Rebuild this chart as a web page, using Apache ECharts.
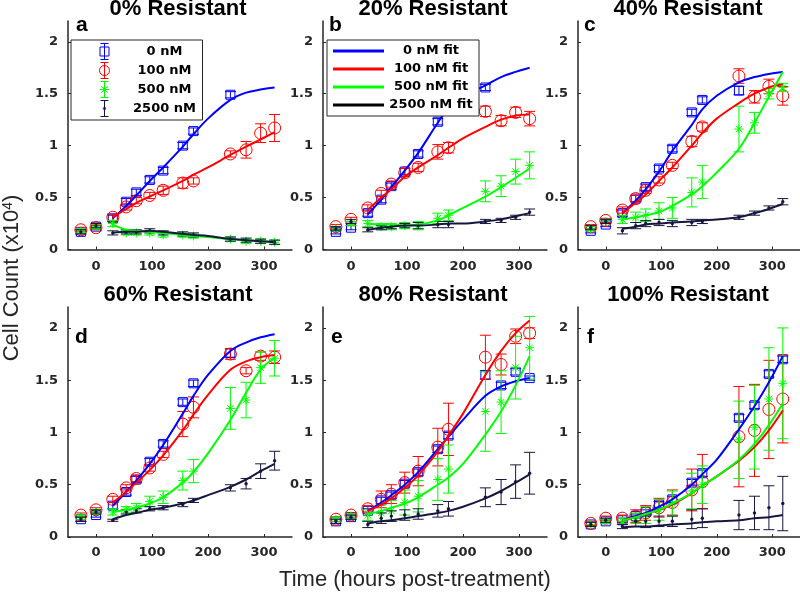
<!DOCTYPE html>
<html><head><meta charset="utf-8">
<script src="https://cdn.jsdelivr.net/npm/echarts@6/dist/echarts.min.js"></script>
<style>html,body{margin:0;padding:0;background:#fff}#c{width:800px;height:594px}</style>
</head><body><div id="c"></div><script>
// ---------- data ----------
const panelTitles = ['0% Resistant', '20% Resistant', '40% Resistant', '60% Resistant', '80% Resistant', '100% Resistant'];
const panelLetters = ['a', 'b', 'c', 'd', 'e', 'f'];
const doseNames = ['0 nM', '100 nM', '500 nM', '2500 nM'];
const fitNames = ['0 nM fit', '100 nM fit', '500 nM fit', '2500 nM fit'];
const xTickValues = [0, 100, 200, 300];
const yTickValues = [0, 0.5, 1, 1.5, 2];
const xLabel = 'Time (hours post-treatment)';
const times = [-27, 0, 30, 54, 72, 96, 120, 155, 174, 240, 268, 294, 319];
const fitTimes = [30, 54, 72, 96, 120, 155, 174, 200, 240, 268, 294, 319];

// order in each list: 0 nM, 100 nM, 500 nM, 2500 nM
const mean_a = [
  [0.17, 0.22, 0.30, 0.46, 0.55, 0.67, 0.76, 1.00, 1.14, 1.49, null, null, null],
  [0.19, 0.21, 0.31, 0.41, 0.47, 0.52, 0.57, 0.64, 0.66, 0.92, 0.96, 1.12, 1.17],
  [0.18, 0.22, 0.25, 0.16, 0.16, 0.16, 0.14, 0.14, 0.13, 0.10, 0.08, 0.08, 0.07],
  [0.17, 0.23, 0.16, 0.17, 0.17, 0.18, 0.16, 0.15, 0.14, 0.10, 0.09, 0.08, 0.07]];
const err_a = [
  [0.02, 0.02, 0.03, 0.03, 0.03, 0.03, 0.03, 0.03, 0.03, 0.03, null, null, null],
  [0.02, 0.02, 0.03, 0.03, 0.03, 0.03, 0.04, 0.05, 0.03, 0.03, 0.08, 0.09, 0.13],
  [0.02, 0.02, 0.03, 0.02, 0.02, 0.02, 0.02, 0.02, 0.02, 0.02, 0.02, 0.02, 0.02],
  [0.02, 0.02, 0.02, 0.02, 0.02, 0.02, 0.02, 0.02, 0.02, 0.02, 0.02, 0.02, 0.02]];
const fit_a = [
  [0.30, 0.42, 0.52, 0.66, 0.79, 0.99, 1.11, 1.26, 1.44, 1.51, 1.54, 1.56],
  [0.31, 0.39, 0.45, 0.51, 0.57, 0.66, 0.72, 0.79, 0.91, 0.99, 1.06, 1.13],
  [0.24, 0.19, 0.18, 0.17, 0.16, 0.14, 0.13, 0.12, 0.10, 0.09, 0.08, 0.07],
  [0.16, 0.17, 0.17, 0.18, 0.17, 0.15, 0.14, 0.13, 0.10, 0.09, 0.08, 0.07]];

const mean_b = [
  [0.17, 0.21, 0.35, 0.48, 0.61, 0.75, 0.92, 1.23, 1.37, 1.56, null, null, null],
  [0.22, 0.29, 0.40, 0.54, 0.63, 0.74, 0.79, 0.94, 0.98, 1.33, 1.24, 1.32, 1.26],
  [0.20, 0.25, 0.25, 0.22, 0.22, 0.23, 0.23, 0.30, 0.33, 0.56, 0.61, 0.75, 0.81],
  [0.20, 0.27, 0.19, 0.21, 0.22, 0.23, 0.23, 0.24, 0.24, 0.27, 0.28, 0.31, 0.36]];
const err_b = [
  [0.02, 0.02, 0.03, 0.03, 0.03, 0.03, 0.03, 0.03, 0.03, 0.03, null, null, null],
  [0.02, 0.02, 0.03, 0.03, 0.03, 0.04, 0.04, 0.07, 0.05, 0.05, 0.05, 0.05, 0.07],
  [0.02, 0.02, 0.03, 0.03, 0.03, 0.03, 0.04, 0.05, 0.05, 0.10, 0.10, 0.12, 0.13],
  [0.02, 0.02, 0.02, 0.02, 0.02, 0.02, 0.03, 0.03, 0.03, 0.02, 0.02, 0.02, 0.03]];
const fit_b = [
  [0.34, 0.48, 0.60, 0.76, 0.93, 1.22, 1.36, 1.47, 1.58, 1.66, 1.71, 1.75],
  [0.38, 0.50, 0.58, 0.70, 0.79, 0.91, 0.98, 1.07, 1.18, 1.25, 1.29, 1.30],
  [0.25, 0.24, 0.24, 0.23, 0.24, 0.28, 0.33, 0.40, 0.51, 0.60, 0.69, 0.78],
  [0.19, 0.21, 0.22, 0.23, 0.23, 0.24, 0.25, 0.25, 0.27, 0.29, 0.32, 0.35]];

const mean_c = [
  [0.18, 0.24, 0.35, 0.49, 0.60, 0.78, 0.97, 1.32, 1.44, 1.53, null, null, null],
  [0.22, 0.28, 0.38, 0.49, 0.57, 0.67, 0.81, 1.04, 1.18, 1.67, 1.47, 1.57, 1.48],
  [0.20, 0.27, 0.29, 0.31, 0.33, 0.37, 0.40, 0.55, 0.65, 1.16, 1.22, 1.50, 1.56],
  [0.21, 0.27, 0.18, 0.23, 0.25, 0.26, 0.25, 0.26, 0.27, 0.31, 0.35, 0.40, 0.46]];
const err_c = [
  [0.02, 0.02, 0.03, 0.03, 0.03, 0.03, 0.03, 0.03, 0.03, 0.04, null, null, null],
  [0.02, 0.02, 0.03, 0.03, 0.03, 0.03, 0.03, 0.05, 0.04, 0.07, 0.06, 0.07, 0.09],
  [0.02, 0.02, 0.04, 0.05, 0.06, 0.08, 0.10, 0.14, 0.16, 0.22, 0.10, 0.05, 0.04],
  [0.02, 0.02, 0.03, 0.03, 0.03, 0.03, 0.03, 0.03, 0.02, 0.02, 0.02, 0.02, 0.03]];
const fit_c = [
  [0.35, 0.47, 0.58, 0.75, 0.95, 1.20, 1.35, 1.48, 1.61, 1.66, 1.69, 1.71],
  [0.35, 0.45, 0.53, 0.66, 0.79, 1.00, 1.12, 1.26, 1.41, 1.50, 1.56, 1.59],
  [0.29, 0.31, 0.33, 0.36, 0.42, 0.53, 0.61, 0.74, 0.97, 1.22, 1.47, 1.71],
  [0.20, 0.22, 0.24, 0.25, 0.26, 0.27, 0.28, 0.29, 0.31, 0.35, 0.39, 0.44]];

const mean_d = [
  [0.17, 0.21, 0.30, 0.43, 0.55, 0.72, 0.89, 1.29, 1.47, 1.76, null, null, null],
  [0.21, 0.26, 0.36, 0.47, 0.56, 0.66, 0.79, 1.08, 1.24, 1.75, 1.59, 1.73, 1.72],
  [0.19, 0.24, 0.24, 0.26, 0.28, 0.34, 0.38, 0.54, 0.63, 1.23, 1.31, 1.62, 1.71],
  [0.17, 0.24, 0.16, 0.24, 0.25, 0.27, 0.28, 0.31, 0.35, 0.47, 0.51, 0.63, 0.73]];
const err_d = [
  [0.02, 0.02, 0.03, 0.03, 0.03, 0.03, 0.03, 0.03, 0.03, 0.04, null, null, null],
  [0.02, 0.02, 0.03, 0.03, 0.03, 0.03, 0.03, 0.12, 0.10, 0.05, 0.03, 0.04, 0.06],
  [0.02, 0.02, 0.03, 0.03, 0.04, 0.05, 0.06, 0.09, 0.11, 0.20, 0.17, 0.15, 0.17],
  [0.02, 0.02, 0.01, 0.02, 0.02, 0.02, 0.02, 0.02, 0.02, 0.03, 0.05, 0.07, 0.09]];
const fit_d = [
  [0.30, 0.43, 0.54, 0.70, 0.88, 1.18, 1.35, 1.55, 1.78, 1.86, 1.91, 1.94],
  [0.33, 0.43, 0.52, 0.64, 0.78, 1.02, 1.17, 1.36, 1.60, 1.68, 1.72, 1.74],
  [0.24, 0.26, 0.28, 0.32, 0.38, 0.52, 0.62, 0.80, 1.12, 1.38, 1.60, 1.72],
  [0.17, 0.21, 0.23, 0.26, 0.28, 0.32, 0.35, 0.40, 0.48, 0.55, 0.63, 0.70]];

const mean_e = [
  [0.15, 0.19, 0.25, 0.35, 0.40, 0.51, 0.62, 0.84, 0.97, 1.55, 1.45, 1.58, 1.52],
  [0.17, 0.21, 0.27, 0.36, 0.41, 0.52, 0.63, 0.86, 1.03, 1.72, 1.65, 1.92, 1.95],
  [0.17, 0.20, 0.21, 0.23, 0.25, 0.33, 0.39, 0.55, 0.65, 1.20, 1.29, 1.62, 1.81],
  [0.15, 0.19, 0.12, 0.18, 0.20, 0.21, 0.22, 0.25, 0.27, 0.38, 0.43, 0.53, 0.61]];
const err_e = [
  [0.02, 0.02, 0.02, 0.03, 0.03, 0.03, 0.03, 0.03, 0.03, 0.04, 0.03, 0.03, 0.02],
  [0.02, 0.02, 0.03, 0.08, 0.09, 0.10, 0.14, 0.18, 0.25, 0.21, 0.10, 0.07, 0.05],
  [0.02, 0.02, 0.05, 0.08, 0.10, 0.12, 0.15, 0.20, 0.23, 0.38, 0.30, 0.30, 0.30],
  [0.02, 0.02, 0.03, 0.05, 0.05, 0.05, 0.05, 0.06, 0.07, 0.09, 0.12, 0.16, 0.20]];
const fit_e = [
  [0.25, 0.33, 0.40, 0.50, 0.62, 0.84, 0.96, 1.12, 1.35, 1.44, 1.49, 1.52],
  [0.25, 0.31, 0.37, 0.47, 0.59, 0.82, 0.97, 1.18, 1.55, 1.78, 1.95, 2.07],
  [0.22, 0.25, 0.28, 0.32, 0.38, 0.50, 0.57, 0.70, 0.98, 1.20, 1.45, 1.73],
  [0.13, 0.15, 0.16, 0.18, 0.20, 0.23, 0.25, 0.29, 0.37, 0.44, 0.52, 0.60]];

const mean_f = [
  [0.12, 0.15, 0.16, 0.20, 0.24, 0.31, 0.36, 0.52, 0.61, 1.14, 1.26, 1.56, 1.70],
  [0.13, 0.18, 0.18, 0.20, 0.23, 0.28, 0.33, 0.45, 0.53, 0.96, 1.02, 1.22, 1.32],
  [0.12, 0.15, 0.15, 0.18, 0.21, 0.26, 0.32, 0.44, 0.50, 0.93, 1.05, 1.32, 1.47],
  [0.12, 0.16, 0.10, 0.15, 0.15, 0.15, 0.15, 0.17, 0.18, 0.21, 0.23, 0.28, 0.32]];
const err_f = [
  [0.02, 0.02, 0.02, 0.02, 0.02, 0.03, 0.03, 0.03, 0.03, 0.03, 0.03, 0.03, 0.03],
  [0.02, 0.02, 0.03, 0.06, 0.07, 0.09, 0.12, 0.20, 0.26, 0.48, 0.44, 0.47, 0.42],
  [0.02, 0.02, 0.03, 0.05, 0.08, 0.10, 0.12, 0.17, 0.18, 0.37, 0.40, 0.49, 0.53],
  [0.02, 0.02, 0.02, 0.05, 0.06, 0.05, 0.05, 0.09, 0.09, 0.14, 0.16, 0.21, 0.26]];
const fit_f = [
  [0.16, 0.20, 0.23, 0.29, 0.36, 0.50, 0.60, 0.74, 1.03, 1.25, 1.48, 1.73],
  [0.16, 0.19, 0.22, 0.26, 0.31, 0.42, 0.49, 0.58, 0.73, 0.86, 1.02, 1.21],
  [0.16, 0.19, 0.22, 0.26, 0.32, 0.42, 0.49, 0.58, 0.74, 0.89, 1.07, 1.28],
  [0.09, 0.10, 0.10, 0.11, 0.12, 0.13, 0.14, 0.15, 0.16, 0.18, 0.19, 0.21]];

const panelMeans = [mean_a, mean_b, mean_c, mean_d, mean_e, mean_f];
const panelErrs = [err_a, err_b, err_c, err_d, err_e, err_f];
const panelFits = [fit_a, fit_b, fit_c, fit_d, fit_e, fit_f];

// ---------- styling ----------
const doseColors = ['#0000ff', '#ff0000', '#00ff00', '#16163e'];
const axisColor = '#262626';
const tickFont = 'DejaVu Sans';
const textFont = 'Liberation Sans';
const colLefts = [68, 323, 578];
const rowTops = [21, 307];
const rowHeights = [228.5, 230];
const gridWidth = 224;
const legendIcons = [
  'path://M2,3.5H11V12.5H2Z M6.5,0V16 M2.5,0H10.5 M2.5,16H10.5',
  'path://M1.5,8A5,5,0,1,1,11.5,8A5,5,0,1,1,1.5,8Z M6.5,0V16 M2.5,0H10.5 M2.5,16H10.5',
  'path://M2,8H11 M6.5,3.5V12.5 M3.3,4.8L9.7,11.2 M9.7,4.8L3.3,11.2 M6.5,0V16 M2.5,0H10.5 M2.5,16H10.5',
  'path://M5.3,8A1.2,1.2,0,1,1,7.7,8A1.2,1.2,0,1,1,5.3,8Z M6.5,0V16 M2.5,0H10.5 M2.5,16H10.5'
];

function makeRenderer(d) {
  const color = doseColors[d];
  return function (params, api) {
    const t = api.value(0), v = api.value(1), e = api.value(2);
    const c = api.coord([t, v]);
    const lo = api.coord([t, v - e]);
    const hi = api.coord([t, v + e]);
    const cw = 5.5;
    const ls = { stroke: color, lineWidth: 1, fill: null };
    const kids = [
      { type: 'line', shape: { x1: c[0], y1: lo[1], x2: c[0], y2: hi[1] }, style: ls },
      { type: 'line', shape: { x1: c[0] - cw, y1: lo[1], x2: c[0] + cw, y2: lo[1] }, style: ls },
      { type: 'line', shape: { x1: c[0] - cw, y1: hi[1], x2: c[0] + cw, y2: hi[1] }, style: ls }
    ];
    if (d === 0) {
      kids.push({ type: 'rect', shape: { x: c[0] - 4.5, y: c[1] - 4.5, width: 9, height: 9 }, style: { stroke: color, fill: 'none', lineWidth: 1 } });
    } else if (d === 1) {
      kids.push({ type: 'circle', shape: { cx: c[0], cy: c[1], r: 6 }, style: { stroke: color, fill: 'none', lineWidth: 1 } });
    } else if (d === 2) {
      const r = 4.5, q = 3.2;
      [[-r, 0, r, 0], [0, -r, 0, r], [-q, -q, q, q], [q, -q, -q, q]].forEach(s => {
        kids.push({ type: 'line', shape: { x1: c[0] + s[0], y1: c[1] + s[1], x2: c[0] + s[2], y2: c[1] + s[3] }, style: ls });
      });
    } else {
      kids.push({ type: 'circle', shape: { cx: c[0], cy: c[1], r: 1.7 }, style: { fill: color, stroke: null } });
    }
    return { type: 'group', children: kids };
  };
}

const grids = [], xAxes = [], yAxes = [], series = [], graphics = [];
for (let p = 0; p < 6; p++) {
  const row = Math.floor(p / 3), col = p % 3;
  grids.push({ left: colLefts[col], top: rowTops[row], width: gridWidth, height: rowHeights[row] });
  xAxes.push({
    type: 'value', gridIndex: p, min: -50, max: 350,
    axisLine: { onZero: false, lineStyle: { color: axisColor, width: 1.5 } },
    axisTick: { show: true, inside: true, length: 3, customValues: xTickValues, lineStyle: { color: axisColor } },
    axisLabel: { customValues: xTickValues, fontFamily: tickFont, fontWeight: 'bold', fontSize: 13, color: axisColor, margin: row === 0 ? 11 : 9 },
    splitLine: { show: false }
  });
  yAxes.push({
    type: 'value', gridIndex: p, min: 0, max: 2.2,
    axisLine: { show: true, onZero: false, lineStyle: { color: axisColor, width: 1.5 } },
    axisTick: { show: true, inside: true, length: 3, customValues: yTickValues, lineStyle: { color: axisColor } },
    axisLabel: { customValues: yTickValues, fontFamily: tickFont, fontWeight: 'bold', fontSize: 13, color: axisColor, margin: 10 },
    splitLine: { show: false }
  });
  for (let d = 0; d < 4; d++) {
    const data = [];
    times.forEach((t, i) => {
      const m = panelMeans[p][d][i];
      if (m != null) data.push([t, m, panelErrs[p][d][i]]);
    });
    series.push({
      type: 'custom', name: doseNames[d], xAxisIndex: p, yAxisIndex: p,
      dimensions: ['t', 'v', 'e'], encode: { x: 0, y: 1 },
      itemStyle: { color: doseColors[d], borderColor: doseColors[d], borderWidth: 1 },
      renderItem: makeRenderer(d), data: data, z: 2
    });
  }
  for (let d = 0; d < 4; d++) {
    series.push({
      type: 'line', name: fitNames[d], xAxisIndex: p, yAxisIndex: p,
      data: fitTimes.map((t, i) => [t, panelFits[p][d][i]]),
      smooth: 0.35, symbol: 'none', showSymbol: false,
      lineStyle: { color: doseColors[d], width: 2 }, itemStyle: { color: doseColors[d] }, z: 3
    });
  }
  const cx = colLefts[col] + gridWidth / 2;
  graphics.push({
    type: 'text', x: cx - 2, y: row === 0 ? 9 : 295,
    style: { text: panelTitles[p], fill: '#000', fontFamily: textFont, fontWeight: 'bold', fontSize: 22, align: 'center', verticalAlign: 'middle' }
  });
  const letterX = [76, 329, 584, 75, 331, 587][p];
  graphics.push({
    type: 'text', x: letterX, y: row === 0 ? 25.7 : 337.7,
    style: { text: panelLetters[p], fill: '#000', fontFamily: textFont, fontWeight: 'bold', fontSize: 21, align: 'left', verticalAlign: 'middle' }
  });
}
graphics.push({
  type: 'text', x: 415, y: 580,
  style: { text: xLabel, fill: '#262626', fontFamily: textFont, fontSize: 22, align: 'center', verticalAlign: 'middle' }
});
graphics.push({
  type: 'text', x: 12, y: 278, rotation: Math.PI / 2,
  style: {
    text: 'Cell Count (x10{sup|4})', fill: '#262626', fontFamily: textFont, fontSize: 22, align: 'center', verticalAlign: 'middle',
    rich: { sup: { fontFamily: textFont, fontSize: 14, verticalAlign: 'top', fill: '#262626' } }
  }
});

const legendText = {
  fontFamily: tickFont, fontWeight: 'bold', fontSize: 13, color: '#000', lineHeight: 16
};
const option = {
  animation: false,
  backgroundColor: '#fff',
  grid: grids, xAxis: xAxes, yAxis: yAxes, series: series, graphic: graphics,
  legend: [
    {
      orient: 'vertical', left: 71, top: 40, padding: [3, 6, 3, 28],
      itemWidth: 36, itemHeight: 16, itemGap: 2, symbolKeepAspect: true, selectedMode: false,
      backgroundColor: '#fff', borderColor: axisColor, borderWidth: 1, borderRadius: 0,
      itemStyle: { color: 'transparent', borderColor: 'inherit', borderWidth: 1 },
      formatter: n => '{c|' + n + '}',
      textStyle: Object.assign({}, legendText, { rich: { c: Object.assign({ width: 64, align: 'center', padding: [0, 0, 0, 5] }, legendText) } }),
      data: doseNames.map((n, i) => ({ name: n, icon: legendIcons[i], itemStyle: { color: 'transparent', borderColor: doseColors[i], borderWidth: 1 } }))
    },
    {
      orient: 'vertical', left: 327, top: 40, padding: [3, 6, 3, 6],
      itemWidth: 51, itemHeight: 16, itemGap: 2, symbolKeepAspect: true, selectedMode: false,
      backgroundColor: '#fff', borderColor: axisColor, borderWidth: 1, borderRadius: 0,
      formatter: n => '{c|' + n + '}',
      textStyle: Object.assign({}, legendText, { rich: { c: Object.assign({ width: 84, align: 'center' }, legendText) } }),
      data: fitNames.map((n, i) => ({ name: n, icon: 'path://M0,0H51V3H0Z', itemStyle: { color: i === 3 ? '#000' : doseColors[i], borderWidth: 0 } }))
    }
  ]
};
const chart = echarts.init(document.getElementById('c'), null, { renderer: 'canvas' });
chart.setOption(option);
</script></body></html>
